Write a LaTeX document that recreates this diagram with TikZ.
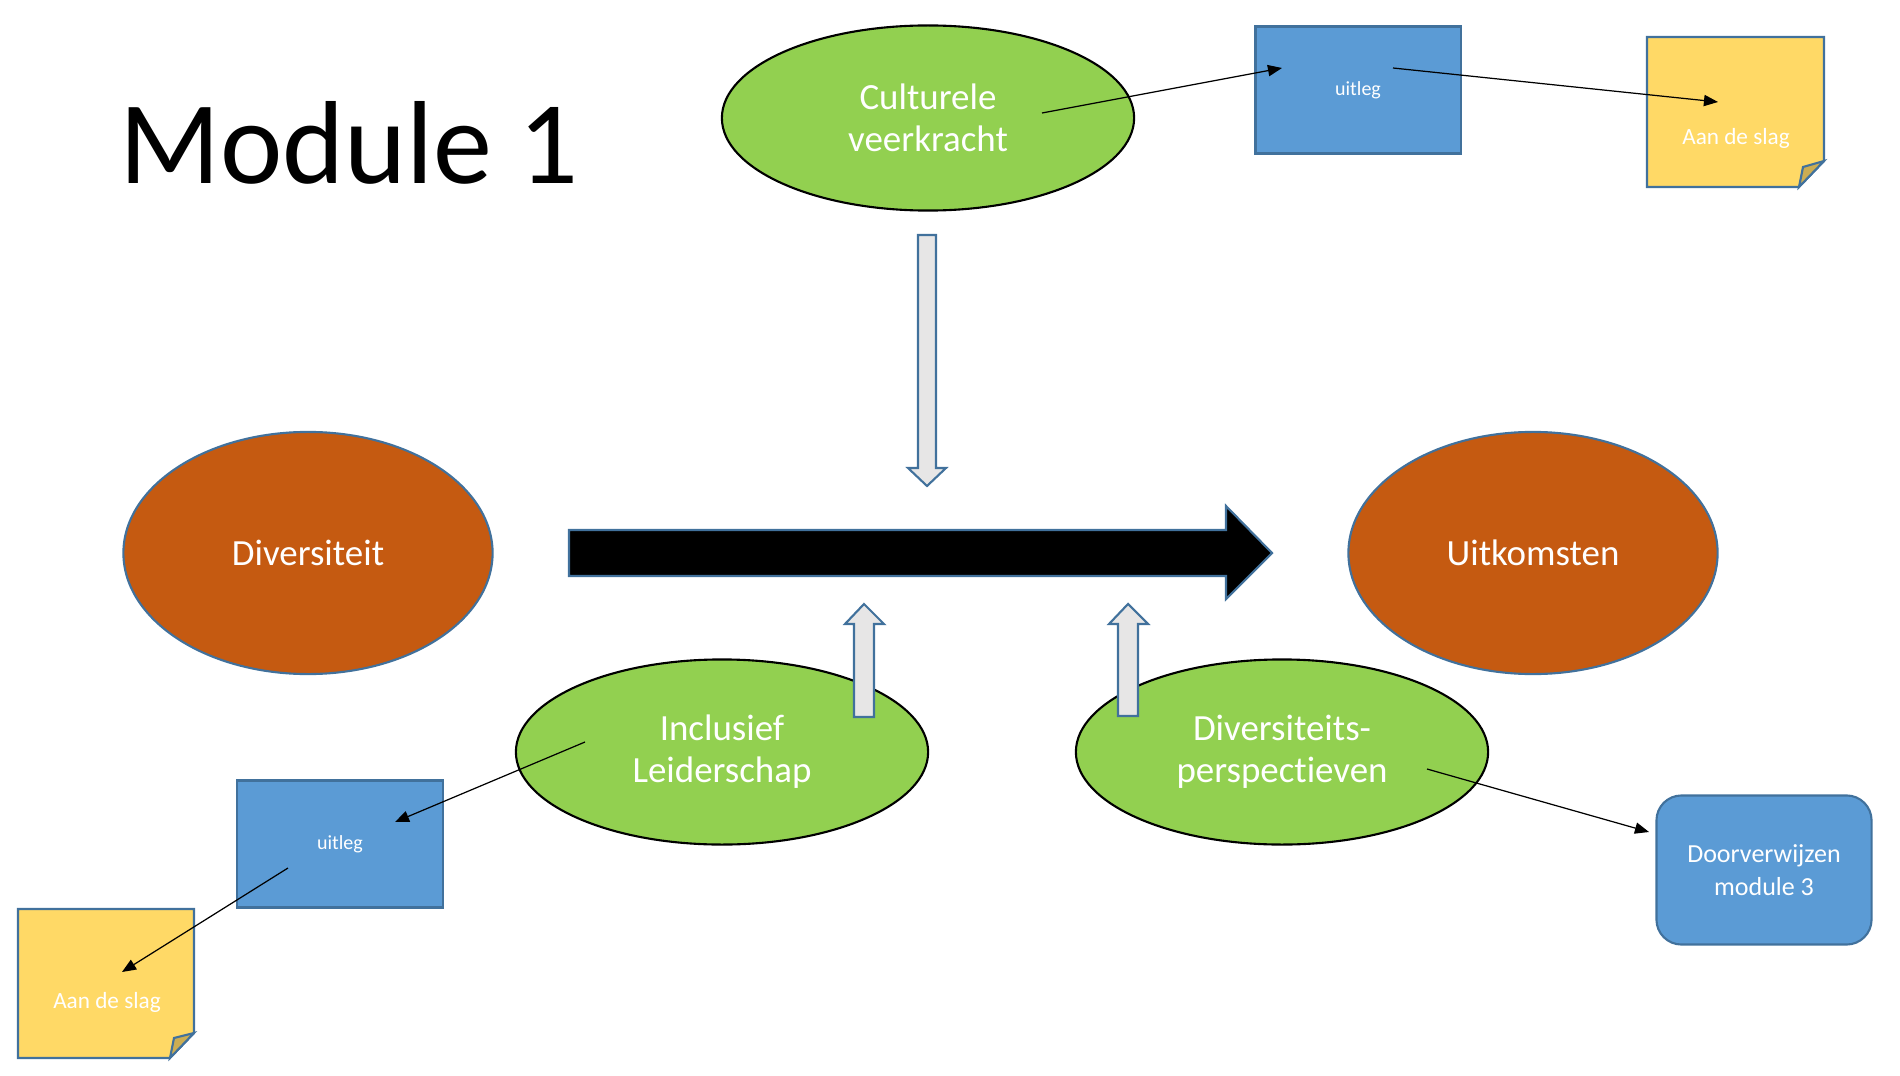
\documentclass[tikz,border=0pt]{standalone}
\usepackage{fontspec}
\setmainfont[Ligatures=NoCommon]{Carlito}
\usetikzlibrary{positioning, calc}
\usetikzlibrary{shapes.geometric, arrows.meta}

\definecolor{grn}{HTML}{92D050}
\definecolor{brn}{HTML}{C55A11}
\definecolor{blu}{HTML}{5B9BD5}
\definecolor{rim}{HTML}{41719C}
\definecolor{ylw}{HTML}{FFD966}
\definecolor{flap}{HTML}{CCAD52}
\definecolor{gry}{HTML}{E7E6E6}

\begin{document}
\begin{tikzpicture}[x=0.01cm, y=-0.01cm,
    groen/.style={ellipse, draw=black, line width=0.6pt, fill=grn, text=white, inner sep=0pt,
                  minimum width=4.12cm, minimum height=1.85cm, align=center,
                  font=\fontsize{10.5}{12}\selectfont},
    bruin/.style={ellipse, draw=rim, line width=0.6pt, fill=brn, text=white, inner sep=0pt,
                  minimum width=3.69cm, minimum height=2.42cm, font=\fontsize{10.5}{12}\selectfont},
    blok/.style={rectangle, draw=rim, line width=0.6pt, fill=blu, text=white,
                 minimum width=2.05cm, minimum height=1.27cm, font=\fontsize{5.7}{7}\selectfont},
    papier/.style={draw=rim, line width=0.6pt, fill=ylw},
    ezelsoor/.style={draw=rim, line width=0.6pt, fill=flap},
    papiertekst/.style={text=white, inner sep=0pt, font=\fontsize{6.6}{8}\selectfont},
    pijl/.style={draw=rim, line width=0.6pt, fill=gry},
    lijn/.style={-{Triangle[length=4pt, width=3.2pt]}, line width=0.35pt}]
\useasboundingbox (0,0) rectangle (1900,1076);

\node[inner sep=0pt, font=\fontsize{33.6}{40}\selectfont] (titel) at (349,143) {Module 1};

% grote pijl
\draw[draw=rim, line width=0.6pt, fill=black] (569,530) -- (1226,530) -- (1226,506) -- (1272,553)
     -- (1226,599) -- (1226,576) -- (569,576) -- cycle;
\draw[pijl] (918,235) -- (936,235) -- (936,468) -- (946,468) -- (927,486) -- (908,468) -- (918,468) -- cycle;

\node[bruin] (div) at (308,553) {Diversiteit};
\node[bruin] (uit) at (1533,553) {Uitkomsten};
\node[groen] (cult) at (928,118) {Culturele\\veerkracht};
\node[groen] (incl) at (722,752) {Inclusief\\Leiderschap};
\node[groen] (pers) at (1282,752) {Diversiteits-\\perspectieven};

\draw[pijl] (854,717) -- (874,717) -- (874,624) -- (884,624) -- (864,604) -- (845,624) -- (854,624) -- cycle;
\draw[pijl] (1118,716) -- (1138,716) -- (1138,624) -- (1148,624) -- (1128,604) -- (1109,624) -- (1118,624) -- cycle;

\node[blok] (uitleg1) at (1358,90) {uitleg};
\node[blok] (uitleg2) at (340,844) {uitleg};
\node[blok, rounded corners=0.25cm, minimum width=2.15cm, minimum height=1.49cm, align=center,
      font=\fontsize{7.4}{9.4}\selectfont] (door) at (1764,870) {Doorverwijzen\\module 3};

% briefjes
\draw[papier] (1647,37) -- (1824,37) -- (1824,161) -- (1799,187) -- (1647,187) -- cycle;
\draw[ezelsoor] (1799,187) -- (1803,167) -- (1824,161) -- cycle;
\node[papiertekst] (slag1) at (1736,138) {Aan de slag};
\draw[papier] (18,909) -- (194,909) -- (194,1033) -- (170,1058) -- (18,1058) -- cycle;
\draw[ezelsoor] (170,1058) -- (174,1038) -- (194,1033) -- cycle;
\node[papiertekst] (slag2) at (107,1002) {Aan de slag};

\coordinate (c1) at (1042,113);  \coordinate (c2) at (1282,68);
\coordinate (c3) at (1393,68);   \coordinate (c4) at (1718,102);
\coordinate (c5) at (585,742);   \coordinate (c6) at (395,822);
\coordinate (c7) at (288,868);   \coordinate (c8) at (122,972);
\coordinate (c9) at (1427,769);  \coordinate (c10) at (1649,832);
\path[lijn]
    (c1) edge (c2)
    (c3) edge (c4)
    (c5) edge (c6)
    (c7) edge (c8)
    (c9) edge (c10);
\end{tikzpicture}
\end{document}
